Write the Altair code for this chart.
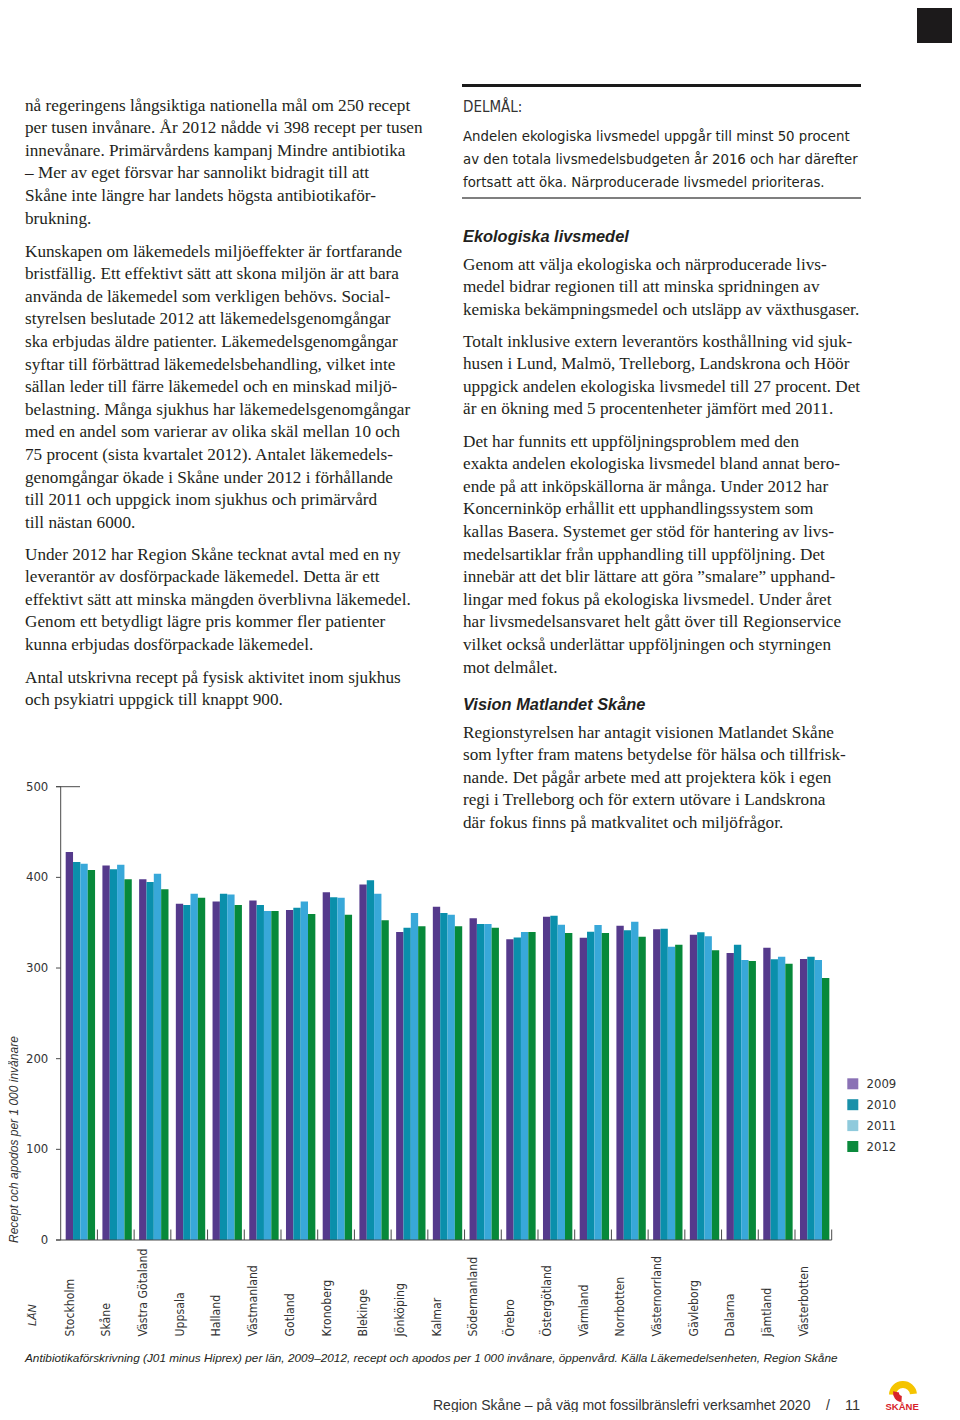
import altair as alt
import pandas as pd

# ---------------- data ----------------
lans = ["Stockholm", "Skåne", "Västra Götaland", "Uppsala", "Halland", "Västmanland",
        "Gotland", "Kronoberg", "Blekinge", "Jönköping", "Kalmar", "Södermanland",
        "Örebro", "Östergötland", "Värmland", "Norrbotten", "Västernorrland",
        "Gävleborg", "Dalarna", "Jämtland", "Västerbotten"]
years = ["2009", "2010", "2011", "2012"]
v2009 = [428, 413, 398, 371, 373.5, 374.6, 364, 383.5, 392, 339.7, 367.6, 354.8,
         331.6, 356.6, 333.4, 346.7, 342.7, 336.7, 316.5, 322.4, 310]
v2010 = [417, 409, 395, 369.5, 382, 369.5, 366.5, 378, 396.7, 344.5, 360.6, 348.5,
         333.8, 357.7, 340, 341.6, 343.4, 339.4, 325.7, 309.6, 312.5]
v2011 = [415, 414, 404, 382, 381, 363, 373.5, 377.5, 382, 360.6, 358.8, 348.5,
         339.7, 347.6, 347.4, 351, 323.5, 335, 308.8, 312.5, 308.8]
v2012 = [408, 398, 387, 377.5, 369.5, 363, 359.5, 358.8, 352.6, 346, 346, 344.5,
         339.7, 338.6, 338.6, 334.5, 325.7, 319.5, 307.7, 304.7, 289]
ticks = [0, 100, 200, 300, 400, 500]

left_p1 = ["nå regeringens långsiktiga nationella mål om 250 recept",
           "per tusen invånare. År 2012 nådde vi 398 recept per tusen",
           "innevånare. Primärvårdens kampanj Mindre antibiotika",
           "– Mer av eget försvar har sannolikt bidragit till att",
           "Skåne inte längre har landets högsta antibiotikaför-",
           "brukning."]
left_p2 = ["Kunskapen om läkemedels miljöeffekter är fortfarande",
           "bristfällig. Ett effektivt sätt att skona miljön är att bara",
           "använda de läkemedel som verkligen behövs. Social-",
           "styrelsen beslutade 2012 att läkemedelsgenomgångar",
           "ska erbjudas äldre patienter. Läkemedelsgenomgångar",
           "syftar till förbättrad läkemedelsbehandling, vilket inte",
           "sällan leder till färre läkemedel och en minskad miljö-",
           "belastning. Många sjukhus har läkemedelsgenomgångar",
           "med en andel som varierar av olika skäl mellan 10 och",
           "75 procent (sista kvartalet 2012). Antalet läkemedels-",
           "genomgångar ökade i Skåne under 2012 i förhållande",
           "till 2011 och uppgick inom sjukhus och primärvård",
           "till nästan 6000."]
left_p3 = ["Under 2012 har Region Skåne tecknat avtal med en ny",
           "leverantör av dosförpackade läkemedel. Detta är ett",
           "effektivt sätt att minska mängden överblivna läkemedel.",
           "Genom ett betydligt lägre pris kommer fler patienter",
           "kunna erbjudas dosförpackade läkemedel."]
left_p4 = ["Antal utskrivna recept på fysisk aktivitet inom sjukhus",
           "och psykiatri uppgick till knappt 900."]

delmal_head = ["DELMÅL:"]
delmal = ["Andelen ekologiska livsmedel uppgår till minst 50 procent",
          "av den totala livsmedelsbudgeten år 2016 och har därefter",
          "fortsatt att öka. Närproducerade livsmedel prioriteras."]
head1 = ["Ekologiska livsmedel"]
right_p1 = ["Genom att välja ekologiska och närproducerade livs-",
            "medel bidrar regionen till att minska spridningen av",
            "kemiska bekämpningsmedel och utsläpp av växthusgaser."]
right_p2 = ["Totalt inklusive extern leverantörs kosthållning vid sjuk-",
            "husen i Lund, Malmö, Trelleborg, Landskrona och Höör",
            "uppgick andelen ekologiska livsmedel till 27 procent. Det",
            "är en ökning med 5 procentenheter jämfört med 2011."]
right_p3 = ["Det har funnits ett uppföljningsproblem med den",
            "exakta andelen ekologiska livsmedel bland annat bero-",
            "ende på att inköpskällorna är många. Under 2012 har",
            "Koncerninköp erhållit ett upphandlingssystem som",
            "kallas Basera. Systemet ger stöd för hantering av livs-",
            "medelsartiklar från upphandling till uppföljning. Det",
            "innebär att det blir lättare att göra ”smalare” upphand-",
            "lingar med fokus på ekologiska livsmedel. Under året",
            "har livsmedelsansvaret helt gått över till Regionservice",
            "vilket också underlättar uppföljningen och styrningen",
            "mot delmålet."]
head2 = ["Vision Matlandet Skåne"]
right_p4 = ["Regionstyrelsen har antagit visionen Matlandet Skåne",
            "som lyfter fram matens betydelse för hälsa och tillfrisk-",
            "nande. Det pågår arbete med att projektera kök i egen",
            "regi i Trelleborg och för extern utövare i Landskrona",
            "där fokus finns på matkvalitet och miljöfrågor."]

y_title = ["Recept och apodos per 1 000 invånare"]
lan_title = ["LÄN"]
caption = ["Antibiotikaförskrivning (J01 minus Hiprex) per län, 2009–2012, recept och apodos per 1 000 invånare, öppenvård. Källa Läkemedelsenheten, Region Skåne"]
footer = ["Region Skåne – på väg mot fossilbränslefri verksamhet 2020"]
footer_sep = ["/"]
page_no = ["11"]
logo_text = ["SKÅNE"]

# ---------------- styles ----------------
M = 8  # page margin
TXT = "#231f20"
AX = "#4a4a4a"
SERIF = "Liberation Serif"
SANS = "Liberation Sans"
COND = "DejaVu Sans Condensed, DejaVu Sans, sans-serif"
bar_colors = ["#553a8c", "#0a8fab", "#38a8d9", "#07893a"]
legend_colors = ["#8a71b5", "#1990a9", "#8fcadc", "#0b8a3c"]

rows = []
for lan, a, b, c, d in zip(lans, v2009, v2010, v2011, v2012):
    for yr, v in zip(years, [a, b, c, d]):
        rows.append({"lan": lan, "year": yr, "value": v})
df = pd.DataFrame(rows)
tickdf = pd.DataFrame({"tick": ticks})
landf = pd.DataFrame({"lan": lans})
extent = pd.DataFrame({"lo": [min(ticks)], "hi": [max(ticks)]})
one = pd.DataFrame({"k": [0]})

xscale = alt.Scale(domain=lans, range=[60.7 - M, 831.7 - M], paddingInner=0, paddingOuter=0)
yscale = alt.Scale(domain=[0, 500], range=[1240 - M, 786.7 - M], nice=False)

bars = alt.Chart(df).mark_bar().encode(
    x=alt.X("lan:N", scale=xscale, axis=None, sort=lans),
    xOffset=alt.XOffset("year:N", scale=alt.Scale(domain=years, paddingInner=0,
                                                  paddingOuter=0.5, align=0.68)),
    y=alt.Y("value:Q", scale=yscale, axis=None),
    color=alt.Color("year:N", scale=alt.Scale(domain=years, range=bar_colors), legend=None),
)
tick_rules = alt.Chart(tickdf).mark_rule(color=AX, strokeWidth=1).encode(
    y=alt.Y("tick:Q", scale=yscale, axis=None),
    x=alt.value(56 - M), x2=alt.value(60.7 - M))
top_rule = alt.Chart(tickdf).transform_filter("datum.tick == 500").mark_rule(
    color=AX, strokeWidth=1).encode(
    y=alt.Y("tick:Q", scale=yscale, axis=None),
    x=alt.value(56 - M), x2=alt.value(80 - M))
tick_labels = alt.Chart(tickdf).mark_text(
    align="right", baseline="middle", font=COND, fontSize=13, color="#333333").encode(
    y=alt.Y("tick:Q", scale=yscale, axis=None),
    x=alt.value(48.3 - M), text="tick:Q")
y_line = alt.Chart(extent).mark_rule(color=AX, strokeWidth=1).encode(
    y=alt.Y("lo:Q", scale=yscale, axis=None), y2="hi:Q", x=alt.value(60.7 - M))
base_line = alt.Chart(extent).mark_rule(color=AX, strokeWidth=1.2).encode(
    y=alt.Y("lo:Q", scale=yscale, axis=None), x=alt.value(56 - M), x2=alt.value(831.7 - M))
separators = alt.Chart(landf).mark_rule(color=AX, strokeWidth=1).encode(
    x=alt.X("lan:N", scale=xscale, axis=None, bandPosition=1),
    y=alt.value(1229.5 - M), y2=alt.value(1240 - M))
cat_labels = alt.Chart(landf).mark_text(
    angle=270, align="left", baseline="middle", dy=-9.5,
    font=COND, fontSize=12.2, color="#333333").encode(
    x=alt.X("lan:N", scale=xscale, axis=None),
    y=alt.value(1336.5 - M), text="lan:N")

chart_part = alt.layer(bars, tick_rules, top_rule, tick_labels, y_line, base_line,
                       separators, cat_labels)


def block(lines, x, y0, leading=22.6, **kw):
    d = pd.DataFrame({"t": lines, "py": [y0 + i * leading - M for i in range(len(lines))]})
    opts = dict(align="left", baseline="alphabetic", color=TXT)
    opts.update(kw)
    return alt.Chart(d).mark_text(**opts).encode(
        text="t:N", y=alt.Y("py:Q", scale=None), x=alt.value(x - M))


serif = dict(font=SERIF, fontSize=17.2)
texts = [
    block(left_p1, 25, 110.5, **serif),
    block(left_p2, 25, 256.5, **serif),
    block(left_p3, 25, 559.5, **serif),
    block(left_p4, 25, 682.5, **serif),
    block(right_p1, 463, 269.5, **serif),
    block(right_p2, 463, 346.5, **serif),
    block(right_p3, 463, 446.5, **serif),
    block(right_p4, 463, 737.5, **serif),
    block(delmal_head, 463, 111.5, font=COND, fontSize=15, color="#333333"),
    block(delmal, 463, 141, leading=23.2, font=COND, fontSize=14.8),
    block(head1, 463, 241.5, font=SANS, fontSize=16.4, fontWeight="bold", fontStyle="italic"),
    block(head2, 463, 709.5, font=SANS, fontSize=16.4, fontWeight="bold", fontStyle="italic"),
    block(caption, 25, 1362, font=SANS, fontSize=11.8, fontStyle="italic"),
    block(footer, 433, 1409.5, font=SANS, fontSize=14, color="#333333"),
    block(footer_sep, 826, 1409.5, font=SANS, fontSize=14, color="#333333"),
    block(page_no, 845, 1409.5, font=SANS, fontSize=14.5, color="#333333"),
    block(logo_text, 885.5, 1410, font=SANS, fontSize=9.5, fontWeight="bold", color="#d8232a"),
]

y_title_layer = alt.Chart(pd.DataFrame({"t": y_title})).mark_text(
    angle=270, align="left", baseline="top", font=SANS, fontSize=12,
    fontStyle="italic", color="#333333").encode(
    text="t:N", x=alt.value(0.5), y=alt.value(1243 - M))
lan_title_layer = alt.Chart(pd.DataFrame({"t": lan_title})).mark_text(
    angle=270, align="left", baseline="middle", font=SANS, fontSize=11,
    fontStyle="italic", color="#333333").encode(
    text="t:N", x=alt.value(33 - M), y=alt.value(1326 - M))

legdf = pd.DataFrame({"year": years})
leg_y = alt.Scale(type="point", domain=years, range=[1083.8 - M, 1146.5 - M], padding=0)
leg_sq = alt.Chart(legdf).mark_square(size=121, opacity=1).encode(
    y=alt.Y("year:N", scale=leg_y, axis=None),
    x=alt.value(852.8 - M),
    color=alt.Color("year:N", scale=alt.Scale(domain=years, range=legend_colors), legend=None))
leg_txt = alt.Chart(legdf).mark_text(
    align="left", baseline="middle", font=COND, fontSize=13, color="#333333").encode(
    y=alt.Y("year:N", scale=leg_y, axis=None),
    x=alt.value(866.5 - M), text="year:N")

rule_top = alt.Chart(one).mark_rule(color="#1a1a1a", strokeWidth=3).encode(
    x=alt.value(462 - M), x2=alt.value(861 - M), y=alt.value(85.5 - M))
rule_bot = alt.Chart(one).mark_rule(color="#555555", strokeWidth=1.5).encode(
    x=alt.value(462 - M), x2=alt.value(861 - M), y=alt.value(198 - M))
corner = alt.Chart(one).mark_rect(color="#1c1a1b").encode(
    x=alt.value(917 - M), x2=alt.value(944), y=alt.value(0), y2=alt.value(43 - M))
sun = alt.Chart(one).mark_arc(theta=4.75, theta2=7.75, radius=14, radius2=7,
                              color="#f5c400").encode(x=alt.value(903 - M), y=alt.value(1395 - M))
swoosh = alt.Chart(one).mark_arc(theta=3.2, theta2=4.9, radius=9, radius2=3,
                                 color="#d8232a").encode(x=alt.value(902 - M), y=alt.value(1393 - M))

page = alt.layer(
    chart_part, *texts, y_title_layer, lan_title_layer, leg_sq, leg_txt,
    rule_top, rule_bot, corner, sun, swoosh
).resolve_scale(x="independent", y="independent", color="independent").properties(
    width=944, height=1404, padding=0,
    autosize=alt.AutoSizeParams(type="none"),
    background="white",
).configure_view(stroke=None)

page.save("out.html", embed_options={"renderer": "svg", "actions": False})
